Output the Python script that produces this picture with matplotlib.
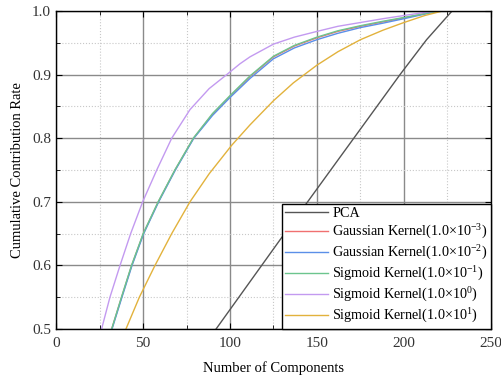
import matplotlib
matplotlib.use("Agg")
import matplotlib.pyplot as plt
from matplotlib.ticker import MultipleLocator

plt.rcParams['font.family'] = ['Liberation Serif', 'DejaVu Serif']
plt.rcParams['mathtext.fontset'] = 'custom'
plt.rcParams['mathtext.rm'] = 'Liberation Serif'
plt.rcParams['mathtext.it'] = 'Liberation Serif:italic'

# ---- data ----
pca_x = [88, 92, 128.7, 160, 197.7, 213, 227.6, 250]
pca_y = [0.485, 0.5, 0.64, 0.758, 0.9, 0.955, 1.0, 1.0]

g3_x = [28, 32, 37.7, 43.5, 50.2, 58.8, 68.4, 79, 90, 100, 111.5, 125, 137, 150, 162, 175, 188, 200, 210, 220, 250]
g3_y = [0.46, 0.5, 0.55, 0.6, 0.65, 0.7, 0.75, 0.8, 0.838, 0.866, 0.897, 0.928, 0.945, 0.958, 0.968, 0.976, 0.983, 0.989, 0.995, 1.0, 1.0]

g2_x = [28, 32.2, 37.9, 43.7, 50.4, 59, 68.6, 79.2, 90, 100, 111.5, 125, 137, 150, 162, 175, 188, 200, 210, 220, 250]
g2_y = [0.46, 0.5, 0.55, 0.6, 0.65, 0.7, 0.75, 0.8, 0.836, 0.864, 0.894, 0.925, 0.942, 0.955, 0.965, 0.974, 0.981, 0.988, 0.994, 1.0, 1.0]

s1_x = [28, 32, 37.6, 43.4, 50.1, 58.7, 68.3, 78.9, 90, 100, 111.5, 125, 137, 150, 162, 175, 188, 200, 210, 220, 250]
s1_y = [0.46, 0.5, 0.55, 0.6, 0.65, 0.7, 0.75, 0.8, 0.839, 0.867, 0.898, 0.929, 0.946, 0.959, 0.969, 0.977, 0.984, 0.990, 0.995, 1.0, 1.0]

s0_x = [22.5, 26.2, 31, 36.8, 42.9, 49.8, 57.9, 66.5, 77, 88, 98.1, 105.7, 111.5, 125, 137, 150, 162, 175, 188, 200, 210, 218, 250]
s0_y = [0.46, 0.5, 0.55, 0.6, 0.65, 0.7, 0.75, 0.8, 0.845, 0.878, 0.9, 0.917, 0.928, 0.948, 0.959, 0.968, 0.976, 0.982, 0.988, 0.993, 0.997, 1.0, 1.0]

s10_x = [37, 40.2, 47.9, 56.9, 66.5, 77, 88, 101, 111.5, 125, 136.4, 150, 162, 175, 188, 200, 212, 222, 250]
s10_y = [0.48, 0.5, 0.55, 0.6, 0.65, 0.7, 0.744, 0.789, 0.821, 0.859, 0.887, 0.915, 0.936, 0.955, 0.970, 0.982, 0.993, 1.0, 1.0]

labels = ['PCA',
          'Gaussian Kernel(1.0×10$^{-3}$)',
          'Gaussian Kernel(1.0×10$^{-2}$)',
          'Sigmoid Kernel(1.0×10$^{-1}$)',
          'Sigmoid Kernel(1.0×10$^{0}$)',
          'Sigmoid Kernel(1.0×10$^{1}$)']
colors = ['#555555', '#f07070', '#5b8fe8', '#6cc58e', '#c39af0', '#e2b23c']

xticks = [0, 50, 100, 150, 200, 250]
yticks = [0.5, 0.6, 0.7, 0.8, 0.9, 1.0]

fig = plt.figure(figsize=(5.01, 3.81), dpi=100)
ax = fig.add_axes([0.1118, 0.1365, 0.8682, 0.8345])

series = [(pca_x, pca_y), (g3_x, g3_y), (g2_x, g2_y), (s1_x, s1_y), (s0_x, s0_y), (s10_x, s10_y)]
for (xs, ys), lab, c in zip(series, labels, colors):
    ax.plot(xs, ys, color=c, lw=1.0, label=lab)

ax.set_xlim(0, 250)
ax.set_ylim(0.5, 1.0)
ax.set_xticks(xticks)
ax.set_yticks(yticks)
ax.set_yticklabels([f'{v:.1f}' for v in yticks])
ax.xaxis.set_minor_locator(MultipleLocator(25))
ax.yaxis.set_minor_locator(MultipleLocator(0.05))
ax.grid(which='major', color='#8a8a8a', lw=1.0, ls='-')
ax.grid(which='minor', color='#c8c8c8', lw=0.8, ls=':')
ax.set_axisbelow(True)
ax.tick_params(which='both', direction='in', top=True, right=True, labelsize=11, colors='black', labelcolor='#333333')
ax.tick_params(which='major', length=4)
ax.tick_params(which='minor', length=3)
ax.tick_params(axis='x', pad=6)
for s in ax.spines.values():
    s.set_color('black')
    s.set_linewidth(1.0)

ax.set_xlabel('Number of Components', fontsize=10.5, labelpad=8)
ax.set_ylabel('Cumulative Contribution Rate', fontsize=10.5, labelpad=6)

leg = ax.legend(loc='lower right', fontsize=10.2, frameon=True, fancybox=False,
                edgecolor='black', borderaxespad=0, handlelength=3.0,
                handletextpad=0.3, labelspacing=0.2, borderpad=0.25)
leg.get_frame().set_linewidth(1.0)
leg.get_frame().set_alpha(1.0)

fig.savefig('out.png', dpi=100)
